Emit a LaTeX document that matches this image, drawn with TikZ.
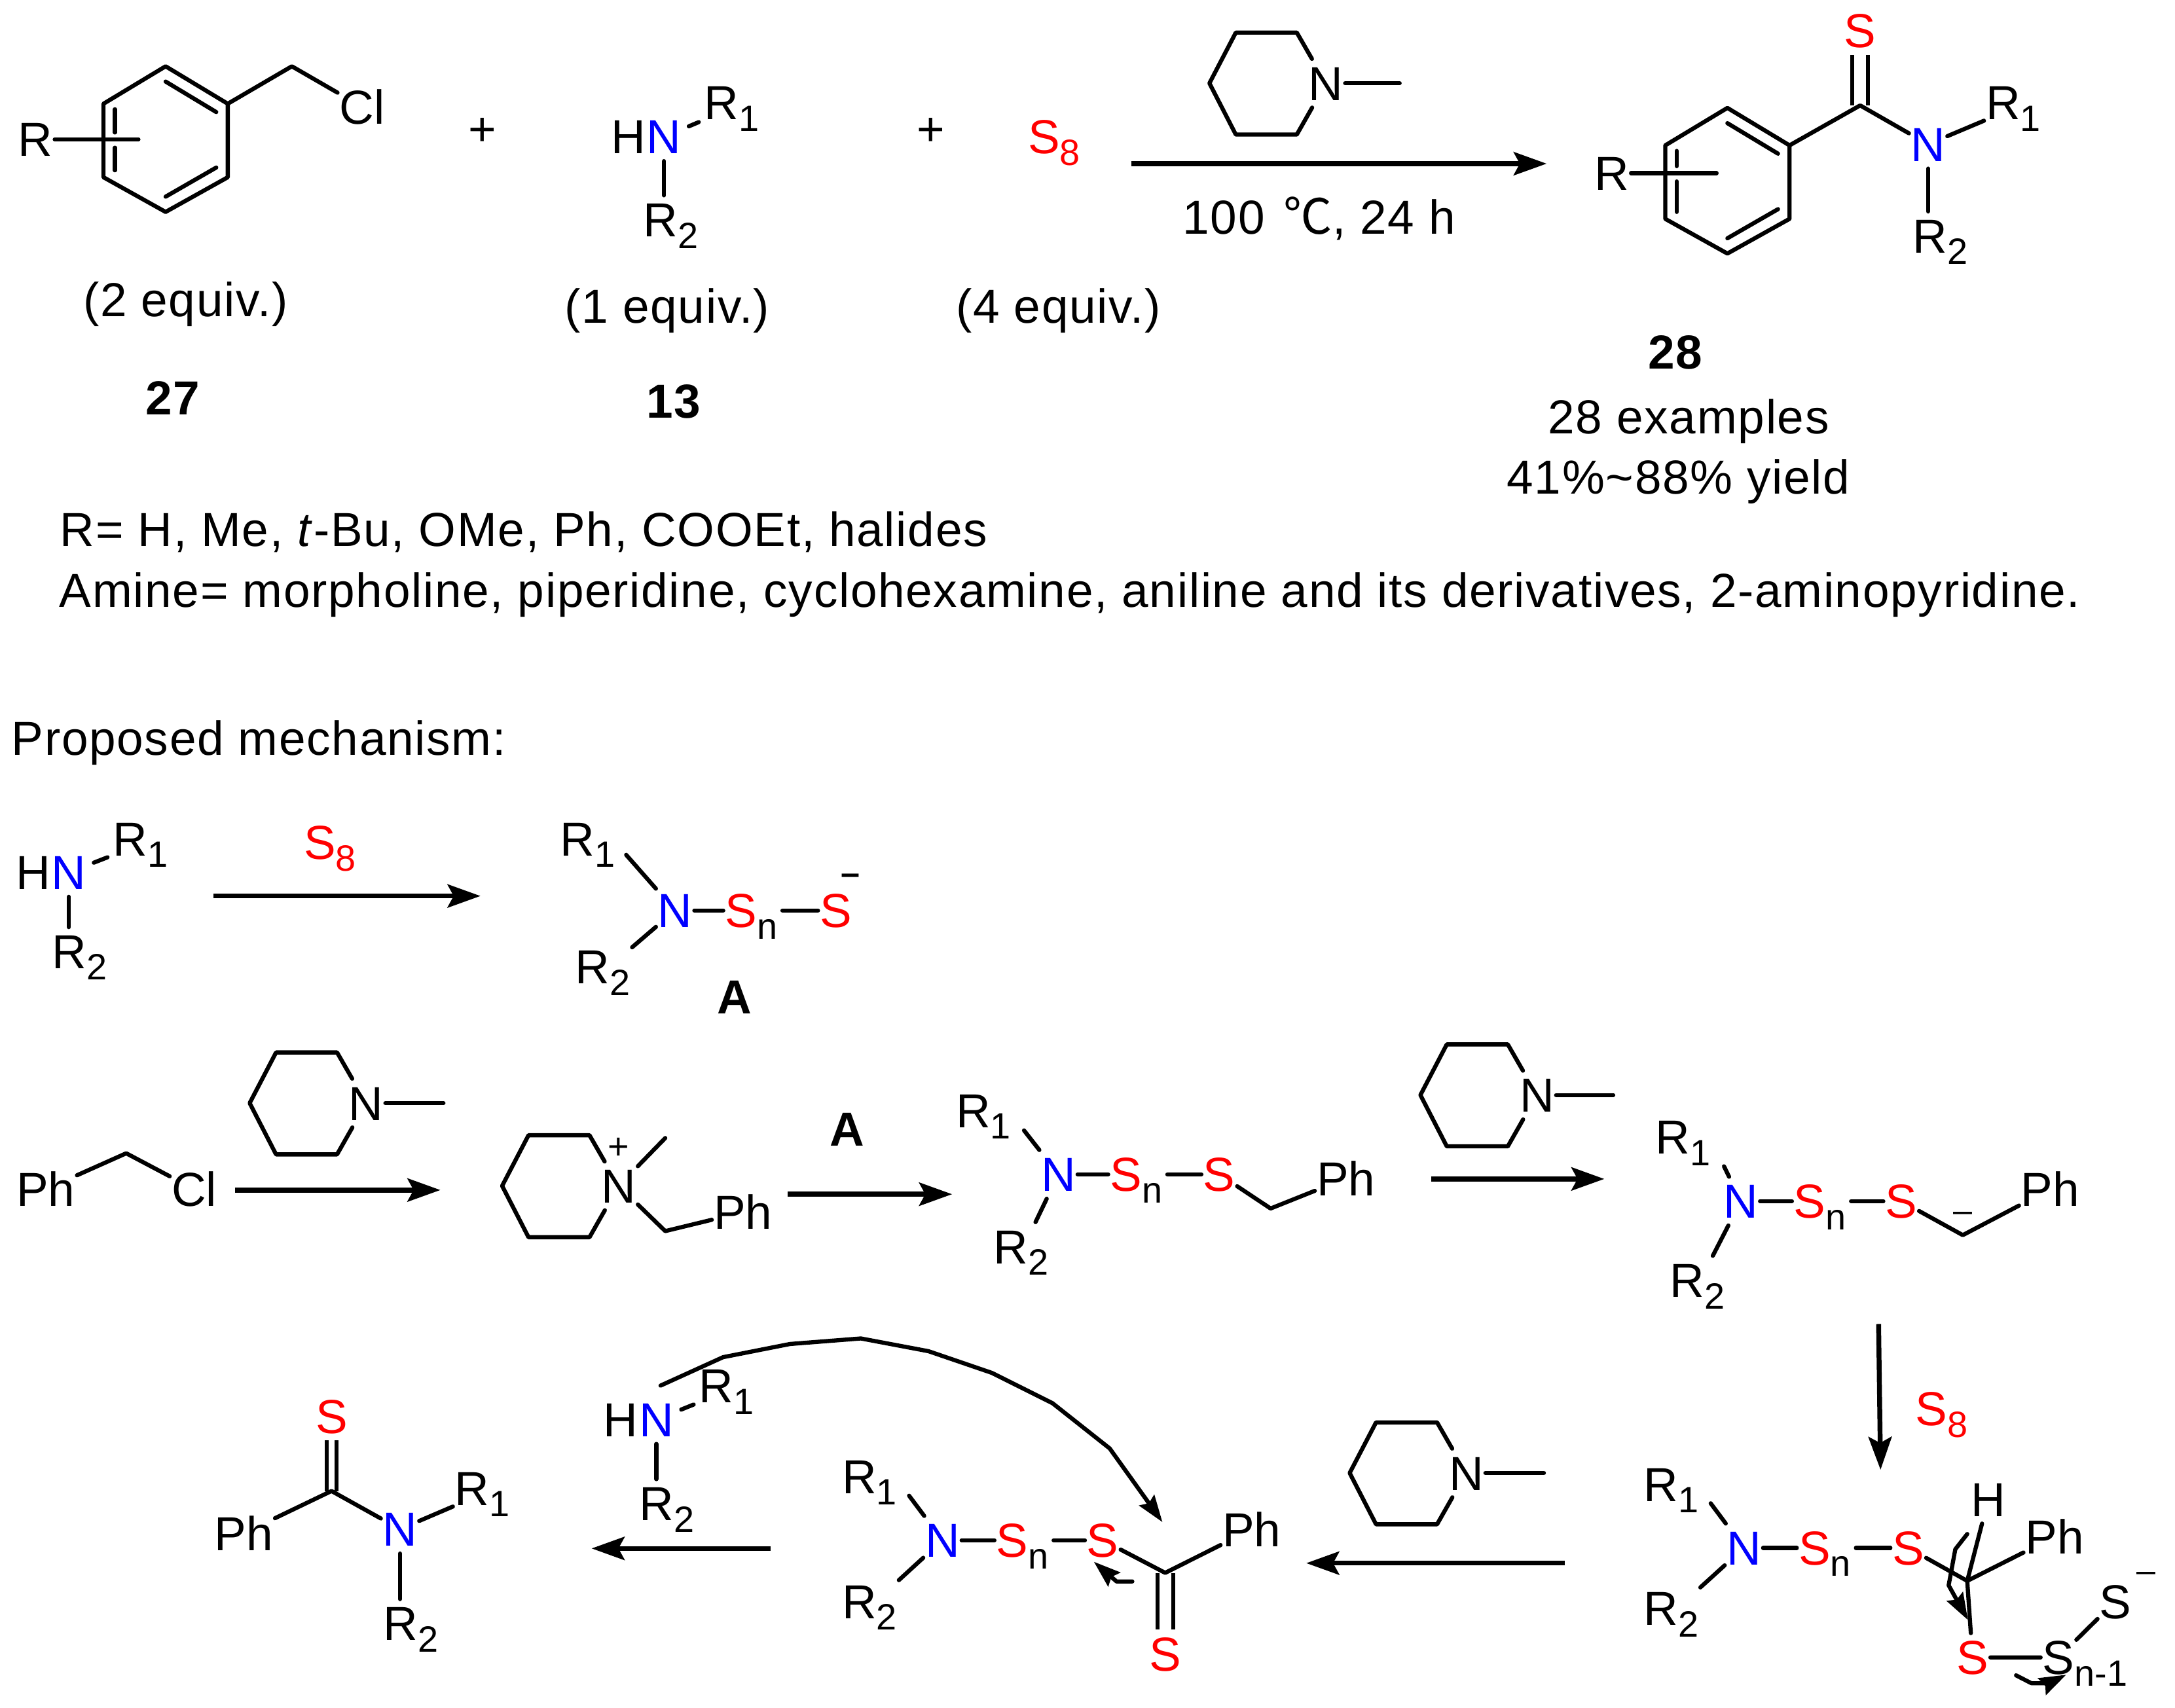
\documentclass[tikz,border=0pt]{standalone}
\usepackage{fontspec}
\setmainfont{Liberation Sans}
\newfontfamily\cjk{Noto Sans CJK SC}
\newfontfamily\textface[LetterSpace=2.35]{Liberation Sans}
\usetikzlibrary{arrows.meta}
\newcommand{\mainsize}{\fontsize{19.6}{23.5}\selectfont}
\newcommand{\subsize}{\fontsize{15}{15}\selectfont}
\newcommand{\subs}[1]{\rlap{\raisebox{-4.7pt}{\subsize #1}}}
\newcommand{\rsub}[1]{R\raisebox{-4.7pt}{\subsize #1}}
\tikzset{
	bond/.style={line width=1.7pt, line cap=round, line join=round},
	dbond/.style={line width=1.6pt, double, double distance=#1},
	rxn/.style={line width=2pt, -{Stealth[length=13.5pt,width=9.5pt,inset=2.5pt]}},
	curly/.style={line width=1.7pt, line join=round, line cap=round, -{Stealth[length=11pt,width=7.5pt,inset=1.5pt]}},
	atom/.style={inner xsep=0.6pt, inner ysep=2.8pt, text height=14pt, text depth=0pt},
	rgroup/.style={anchor=base west, xshift=-7.7pt, yshift=-7pt, inner xsep=0.6pt, inner ysep=2.8pt, text height=14pt, text depth=4.7pt},
	txt/.style={anchor=base, inner sep=0pt, font=\textface\mainsize},
	line/.style={anchor=base west, inner sep=0pt, font=\textface\mainsize},
	charge/.style={inner sep=0pt, font=\fontsize{14}{14}\selectfont}
}
\begin{document}
\begin{tikzpicture}[x=0.02cm, y=-0.02cm, every node/.style={font=\mainsize}]
	\useasboundingbox (0,0) rectangle (1568,1231);

	% Piperidine rings
	\foreach \m/\x/\y in {pa/955.9/60, pb/264/795.3, pc/1108/789.5, pd/1057/1062, pe/446/855} {
		\node[atom] (\m N) at (\x,\y) {N};
		\coordinate (\m a) at (\x-21,\y-36.5);
		\coordinate (\m b) at (\x-65,\y-36.5);
		\coordinate (\m c) at (\x-84,\y);
		\coordinate (\m d) at (\x-65,\y+37);
		\coordinate (\m e) at (\x-21,\y+37);
		\draw[bond] (\m N) -- (\m a) -- (\m b) -- (\m c) -- (\m d) -- (\m e) -- (\m N);
	}
	\foreach \m/\x/\y in {pa/1009/60, pb/319.7/795.3, pc/1163/789.5, pd/1113/1062} {
		\coordinate (\m me) at (\x,\y);
		\draw[bond] (\m N) -- (\m me);
	}

	% Benzene rings
	\foreach \m/\x/\y/\s/\rx/\ex in {ba/119.4/47.8/52.7/25.6/-19.6, bb/1245.3/77.8/47/1162/-7.8} {
		\coordinate (\m a) at (\x,\y);
		\coordinate (\m b) at (\x+44.8,\y+27);
		\coordinate (\m c) at (\x+44.8,\y+80);
		\coordinate (\m d) at (\x,\y+105);
		\coordinate (\m e) at (\x-44.8,\y+80);
		\coordinate (\m f) at (\x-44.8,\y+27);
		\draw[bond] (\m a) -- (\m b) -- (\m c) -- (\m d) -- (\m e) -- (\m f) -- cycle;
		\foreach \k/\ix/\iy/\jx/\jy in {p/0/11/36.5/33, q/36.5/73/0/94, r/-36.5/31/-36.5/\s-5, t/-36.5/\s+6/-36.5/75} {
			\coordinate (\m\k1) at (\x+\ix,\y+\iy);
			\coordinate (\m\k2) at (\x+\jx,\y+\jy);
			\draw[bond] (\m\k1) -- (\m\k2);
		}
		\node[atom] (\m R) at (\rx,\y+\s) {R};
		\coordinate (\m g) at (\x+\ex,\y+\s);
		\draw[bond] (\m R) -- (\m g);
	}

	% Benzyl chloride
	\coordinate (bach) at (210.4,47.8);
	\node[atom] (baCl) at (261,77) {Cl};
	\draw[bond] (bab) -- (bach) -- (baCl);

	% Free amines
	\foreach \m/\nx/\ny/\ax/\ay/\bx/\by in {ha/478.7/98.6/519.7/74/476/158.4, hb/49.7/629/93.5/604.7/49.7/686, hc/473.2/1023.5/516/999/473/1084} {
		\node[atom, blue] (\m N) at (\nx,\ny) {N};
		\node[atom] (\m H) at ([xshift=-14.7pt]\m N) {H};
		\node[rgroup] (\m a) at (\ax,\ay) {\rsub{1}};
		\node[rgroup] (\m b) at (\bx,\by) {\rsub{2}};
		\draw[bond, shorten <=2.5pt, shorten >=1.5pt] (\m N) -- (\m a);
		\draw[bond] (\m N) -- (\m N |- \m b.north);
	}

	% Sulfur chains
	\foreach \m/\nx/\ny/\ax/\ay/\bx/\by/\sx/\tx/\gap in {ca/486.7/656.4/416/604.7/426.9/697/534.3/602.6/5.7pt,
			cb/763/846.7/701.3/800.5/728.5/898.7/811.8/879/7.5pt,
			cc/1255/866/1205.8/819.7/1216/923/1304.7/1370.6/10.8pt,
			cd/1257.2/1116/1197.2/1070/1197/1159.6/1308.2/1375.7/6.9pt,
			ce/679.4/1110.5/619.2/1064.4/619.2/1154.5/729.8/795/7pt} {
		\node[atom, blue] (\m N) at (\nx,\ny) {N};
		\node[rgroup] (\m a) at (\ax,\ay) {\rsub{1}};
		\node[rgroup] (\m b) at (\bx,\by) {\rsub{2}};
		\node[atom, red] (\m S) at (\sx,\ny) {S\subs{\color{black}n}};
		\node[atom, red] (\m T) at (\tx,\ny) {S};
		\draw[bond, shorten >=\gap] (\m N) -- (\m a.east);
		\draw[bond] (\m N) -- (\m b);
		\draw[bond] (\m N) -- (\m S);
		\draw[bond, shorten <=9.6pt] (\m S) -- (\m T);
	}

	% Benzyl ends
	\node[atom] (cbPh) at (970.3,849.6) {Ph};
	\coordinate (cbch) at (916,871.3);
	\draw[bond] (cbT) -- (cbch) -- (cbPh);
	\node[atom] (ccPh) at (1478,857.4) {Ph};
	\coordinate (ccch) at (1415,890.5);
	\draw[bond] (ccT) -- (ccch) -- (ccPh);
	\node[charge] (ccminus) at (1415,877.5) {–};
	\node[charge] (caminus) at (613,634) {\textbf{–}};

	% Benzyl chloride, mechanism
	\node[atom] (dPh) at (33,857.4) {Ph};
	\coordinate (dch) at (91,831.5);
	\node[atom] (dCl) at (140,857.4) {Cl};
	\draw[bond] (dPh) -- (dch) -- (dCl);

	% Ammonium salt
	\node[inner sep=0pt, font=\fontsize{15}{15}\selectfont] (peplus) at (446,828) {+};
	\coordinate (peme) at (479.6,820.5);
	\coordinate (pech) at (479.6,887.6);
	\node[atom] (pePh) at (535.6,874) {Ph};
	\draw[bond] (peN) -- (peme);
	\draw[bond] (peN) -- (pech) -- (pePh);

	% Product 28
	\coordinate (pc) at (1341,76);
	\node[atom, red] (pS) at (1341,22) {S};
	\node[atom, blue] (pN) at (1390,104) {N};
	\node[rgroup] (pa) at (1443.8,74) {\rsub{1}};
	\node[rgroup] (pb) at (1391,170) {\rsub{2}};
	\draw[dbond=4.8pt] (pc) -- (pS);
	\draw[bond] (bbb) -- (pc) -- (pN);
	\draw[bond] (pN) -- (pa);
	\draw[bond] (pN) -- (pN |- pb.north);

	% Final thioamide
	\coordinate (qc) at (239,1075);
	\node[atom, red] (qS) at (239,1021) {S};
	\node[atom] (qPh) at (175.8,1105.4) {Ph};
	\node[atom, blue] (qN) at (288.4,1102.5) {N};
	\node[rgroup] (qa) at (340,1073) {\rsub{1}};
	\node[rgroup] (qb) at (288.4,1170.5) {\rsub{2}};
	\draw[dbond=2.6pt] (qc) -- (qS);
	\draw[bond] (qPh) -- (qc) -- (qN);
	\draw[bond] (qN) -- (qa);
	\draw[bond] (qN) -- (qN |- qb.north);

	% Thioester intermediate
	\coordinate (rc) at (840,1134);
	\node[atom, red] (rS) at (840,1192.5) {S};
	\node[atom] (rPh) at (902.4,1102.7) {Ph};
	\draw[dbond=4.8pt] (rc) -- (rS);
	\draw[bond] (ceT) -- (rc) -- (rPh);

	% Polysulfide intermediate
	\coordinate (sc) at (1418.2,1139.8);
	\node[atom] (sPh) at (1481.2,1108) {Ph};
	\node[atom] (sH) at (1433.4,1080.9) {H};
	\node[atom, red] (sa) at (1422,1195) {S};
	\node[atom] (sb) at (1484,1195) {S\subs{n-1}};
	\node[atom] (sd) at (1525,1154.5) {S};
	\node[charge] (sminus) at (1547,1137) {–};
	\draw[bond] (cdT) -- (sc) -- (sPh);
	\draw[bond] (sH) -- (sc) -- (sa);
	\draw[bond] (sa) -- (sb) -- (sd);

	% Reaction arrows
	\foreach \m/\ax/\ay/\bx/\by in {ra/815.5/118/1115/118, rb/153.8/646/346.4/646, rc/169.4/858/317.5/858,
			rd/568/861/686.4/861, re/1032/850/1156.6/850, rf/1354.3/954.6/1355.7/1059.7,
			rg/1128/1127/941.7/1127, rh/555.4/1116.4/426.5/1116.4} {
		\coordinate (\m s) at (\ax,\ay);
		\coordinate (\m e) at (\bx,\by);
		\draw[rxn] (\m s) -- (\m e);
	}

	% Curved arrows
	\foreach \n/\x/\y in {a/476.2/999, b/521.3/978.5, c/569.5/969, d/620.6/965, e/669.4/974.2, f/715/989.8, g/758.8/1011.7, h/800/1044.3, i/838/1097.4}
		\coordinate (big\n) at (\x,\y);
	\draw[curly] (biga) -- (bigb) -- (bigc) -- (bigd) -- (bige) -- (bigf) -- (bigg) -- (bigh) -- (bigi);
	\foreach \n/\x/\y in {a/816.3/1140.2, b/804.9/1140.2, c/788.6/1126}
		\coordinate (sma\n) at (\x,\y);
	\draw[curly] (smaa) -- (smab) -- (smac);
	\foreach \n/\x/\y in {a/1418.2/1106, b/1409.6/1117, c/1404.8/1143, d/1418.7/1168}
		\coordinate (smb\n) at (\x,\y);
	\draw[curly] (smba) -- (smbb) -- (smbc) -- (smbd);
	\foreach \n/\x/\y in {a/1453.4/1207.9, b/1464.5/1213.6, c/1477/1213.6, d/1489.5/1207.5}
		\coordinate (smc\n) at (\x,\y);
	\draw[curly] (smca) -- (smcb) -- (smcc) -- (smcd);

	% Sulfur labels
	\node[atom, red] (sea) at (752.6,98.6) {S\subs{8}};
	\node[atom, red] (seb) at (230.5,607.4) {S\subs{8}};
	\node[atom, red] (sec) at (1392.4,1015.7) {S\subs{8}};

	% Labels
	\node[inner sep=0pt] (plusa) at (348,95) {+};
	\node[inner sep=0pt] (plusb) at (671,95) {+};
	\node[txt] (eqa) at (133.7,228) {(2 equiv.)};
	\node[txt] (eqb) at (481,233) {(1 equiv.)};
	\node[txt] (eqc) at (763,233) {(4 equiv.)};
	\node[txt] (numa) at (125,298.8) {\textbf{27}};
	\node[txt] (numb) at (486,301.3) {\textbf{13}};
	\node[txt] (numc) at (1208,265.8) {\textbf{28}};
	\node[txt] (cond) at (951,168.7) {100\hspace{0.4em}{\cjk\fontsize{20}{20}\selectfont ℃}, 24 h};
	\node[txt] (exam) at (1217.4,312.8) {28 examples};
	\node[txt] (yield) at (1210,356) {41\%\textasciitilde 88\% yield};
	\node[atom] (labA) at (529.7,718.7) {\textbf{A}};
	\node[atom] (labB) at (610.6,814) {\textbf{A}};
	\node[line] (listR) at (43,394) {R= H, Me, \textit{t}-Bu, OMe, Ph, COOEt, halides};
	\node[line] (listN) at (42.5,438) {Amine= morpholine, piperidine, cyclohexamine, aniline and its derivatives, 2-aminopyridine.};
	\node[line] (mech) at (8,544.3) {Proposed mechanism:};
\end{tikzpicture}
\end{document}
